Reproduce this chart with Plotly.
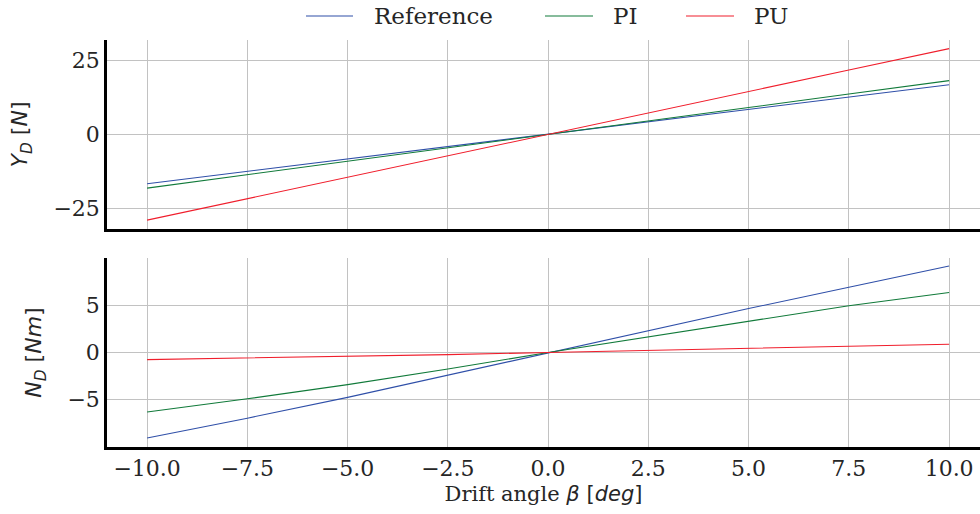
import plotly.graph_objects as go
from plotly.subplots import make_subplots

# Drift angle sweep [deg]
beta = [-10.0, -7.5, -5.0, -2.5, 0.0, 2.5, 5.0, 7.5, 10.0]

# Sway force Y_D [N]
yd_reference = [-16.6, -12.45, -8.2, -4.2, 0.0, 4.2, 8.3, 12.5, 16.8]
yd_pi = [-18.1, -13.6, -9.0, -4.5, 0.0, 4.5, 9.1, 13.7, 18.2]
yd_pu = [-28.9, -21.7, -14.4, -7.2, 0.0, 7.3, 14.5, 21.75, 29.0]

# Yaw moment N_D [Nm]
nd_reference = [-9.05, -6.95, -4.75, -2.4, 0.0, 2.35, 4.65, 6.9, 9.15]
nd_pi = [-6.3, -4.9, -3.4, -1.75, 0.0, 1.65, 3.3, 4.95, 6.35]
nd_pu = [-0.75, -0.6, -0.45, -0.22, 0.0, 0.22, 0.42, 0.65, 0.88]

# Tick positions
x_ticks = [-10.0, -7.5, -5.0, -2.5, 0.0, 2.5, 5.0, 7.5, 10.0]
yd_ticks = [-25, 0, 25]
nd_ticks = [-5, 0, 5]

series_names = ["Reference", "PI", "PU"]
colors = ["#2f4fa8", "#117a3a", "#f01e2c"]

W, H = 980, 514
L, R, T, B = 107, 0, 40, 67
SERIF = "DejaVu Serif"
SANS = "DejaVu Sans"
GRID = "#c2c2c2"
INK = "#262626"

fig = make_subplots(rows=2, cols=1, shared_xaxes=True, vertical_spacing=29 / (H - T - B))

for vals, name, c in zip([yd_reference, yd_pi, yd_pu], series_names, colors):
    fig.add_trace(go.Scatter(x=beta, y=vals, mode="lines", name=name,
                             line=dict(color=c, width=1.1), showlegend=False), row=1, col=1)
for vals, name, c in zip([nd_reference, nd_pi, nd_pu], series_names, colors):
    fig.add_trace(go.Scatter(x=beta, y=vals, mode="lines", name=name,
                             line=dict(color=c, width=1.1), showlegend=False), row=2, col=1)

axis_common = dict(showgrid=True, gridcolor=GRID, gridwidth=1, zeroline=False,
                   showline=True, linecolor="black", linewidth=2.5, ticks="",
                   tickfont=dict(family=SERIF, size=22, color=INK))

fig.update_xaxes(range=[-11.0, 10.77], tickvals=x_ticks, tickformat=".1f", **axis_common)
fig.update_xaxes(showticklabels=False, row=1, col=1)
fig.update_xaxes(title=dict(text="Drift angle <span style='font-family:DejaVu Sans'><i>β</i> [<i>deg</i>]</span>",
                            font=dict(family=SERIF, size=21, color=INK), standoff=7),
                 row=2, col=1)

fig.update_yaxes(range=[-31.9, 31.9], tickvals=yd_ticks, **axis_common, row=1, col=1)
fig.update_yaxes(range=[-10.0, 10.0], tickvals=nd_ticks, **axis_common, row=2, col=1)
fig.update_yaxes(title=dict(text="<i>Y</i><sub><i>D</i></sub> [<i>N</i>]",
                            font=dict(family=SANS, size=22, color=INK), standoff=20),
                 row=1, col=1)
fig.update_yaxes(title=dict(text="<i>N</i><sub><i>D</i></sub> [<i>Nm</i>]",
                            font=dict(family=SANS, size=22, color=INK), standoff=20),
                 row=2, col=1)

# Legend row drawn above the plots: line swatch followed by the series label
pw, ph = W - L - R, H - T - B


def px_x(px):
    return (px - L) / pw


def px_y(py):
    return (H - B - py) / ph


swatches = [(306, 353, 372), (545, 593, 611), (686, 734, 752)]
legend_y = 16
for (x0, x1, tx), name, c in zip(swatches, series_names, colors):
    fig.add_shape(type="line", xref="paper", yref="paper",
                  x0=px_x(x0), x1=px_x(x1), y0=px_y(legend_y), y1=px_y(legend_y),
                  line=dict(color=c, width=1.2))
    fig.add_annotation(xref="paper", yref="paper", x=px_x(tx), y=px_y(legend_y),
                       text=name, showarrow=False, xanchor="left", yanchor="middle",
                       font=dict(family=SERIF, size=23, color=INK))

fig.update_layout(width=W, height=H, margin=dict(l=L, r=R, t=T, b=B),
                  plot_bgcolor="white", paper_bgcolor="white", showlegend=False)

fig.write_html("out.html")
